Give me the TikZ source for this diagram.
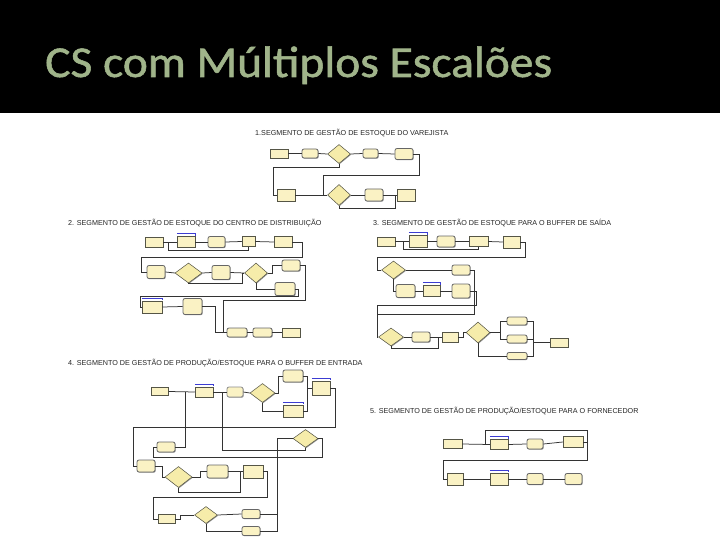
\documentclass[tikz,border=0pt]{standalone}
\usepackage{fontspec}
\usetikzlibrary{shapes.geometric,shadows}
\newfontfamily\titlefont[FakeStretch=1.08,FakeBold=1.2]{Carlito}
\newfontfamily\headfont{Liberation Sans}
\definecolor{titlegreen}{RGB}{160,180,138}
\definecolor{cream}{RGB}{250,242,196}
\definecolor{diafill}{RGB}{246,236,170}
\definecolor{edge}{RGB}{85,85,70}
\definecolor{qblue}{RGB}{60,60,210}
\tikzset{
  conn/.style={draw=black!80, line width=0.75pt},
  modbase/.style={draw=edge, line width=0.5pt, fill=cream, inner sep=0pt,
     drop shadow={shadow xshift=0.7pt, shadow yshift=-0.7pt, fill=black!45, opacity=1}},
  pbox/.style={modbase, rectangle},
  qbox/.style={modbase, rectangle},
  rbox/.style={modbase, rectangle, rounded corners=2pt, draw=black!60, line width=0.8pt},
  dia/.style={modbase, diamond, fill=diafill},
  head/.style={anchor=base west, inner sep=0pt, text=black!85, font=\headfont\fontsize{7.2}{8}\selectfont},
  qline/.style={draw=qblue, line width=0.6pt}
}
\newcommand\qbar[1]{\draw[qline] ([yshift=2.5pt]#1.north west) -- ([yshift=2.5pt]#1.north east) -- ([yshift=0.5pt]#1.north east);}
\begin{document}
\begin{tikzpicture}[x=1pt,y=-1pt]
\useasboundingbox (0,0) rectangle (720,540);
\fill[white] (0,0) rectangle (720,540);
\fill[black] (0,0) rectangle (720,113);
\node[anchor=base west, inner sep=0pt, text=titlegreen, font=\titlefont\fontsize{44}{44}\selectfont] (title) at (45,77) {CS com Múltiplos Escalões};

% headings
\node[head] (h1) at (255,135.5) {1.SEGMENTO DE GESTÃO DE ESTOQUE DO VAREJISTA};
\node[head] (h2) at (68,225.5) {2. SEGMENTO DE GESTÃO DE ESTOQUE DO CENTRO DE DISTRIBUIÇÃO};
\node[head] (h3) at (373,225.5) {3. SEGMENTO DE GESTÃO DE ESTOQUE PARA O BUFFER DE SAÍDA};
\node[head] (h4) at (68,365.5) {4. SEGMENTO DE GESTÃO DE PRODUÇÃO/ESTOQUE PARA O BUFFER DE ENTRADA};
\node[head] (h5) at (370,413) {5. SEGMENTO DE GESTÃO DE PRODUÇÃO/ESTOQUE PARA O FORNECEDOR};

% ---------- segment 1
\node[pbox, minimum width=18pt, minimum height=9pt] (a1) at (279,153.5) {};
\node[rbox, minimum width=16pt, minimum height=9pt] (a2) at (310,153.5) {};
\node[dia, minimum width=23pt, minimum height=19pt] (ad1) at (339,154) {};
\node[rbox, minimum width=15pt, minimum height=9pt] (a3) at (370.5,153.5) {};
\node[rbox, minimum width=18pt, minimum height=11pt] (a4) at (404,154) {};
\node[pbox, minimum width=18pt, minimum height=12pt] (a5) at (286,195) {};
\node[dia, minimum width=23pt, minimum height=21pt] (ad2) at (339,195) {};
\node[rbox, minimum width=18pt, minimum height=12pt] (a6) at (374,195) {};
\node[pbox, minimum width=18pt, minimum height=12pt] (a7) at (406,195) {};
\begin{scope}[conn]
\draw (a1.east) -- (a2.west);
\draw (a2.east) -- (ad1.west);
\draw (ad1.east) -- (a3.west);
\draw (a3.east) -- (a4.west);
\draw (ad1.south) |- (273,167) |- (a5.west);
\draw (a4.east) -| (419,175) -| (323,195);
\draw (a5.east) -- (ad2.west);
\draw (ad2.east) -- (a6.west);
\draw (a6.east) -- (a7.west);
\draw (ad2.south) |- (395,208) |- (a7.west);
\end{scope}

% ---------- segment 2
\node[pbox, minimum width=18pt, minimum height=10pt] (b1) at (154,242) {};
\node[qbox, minimum width=18pt, minimum height=11pt] (b2) at (186,242) {};
\node[rbox, minimum width=17pt, minimum height=11pt] (b3) at (216.5,242) {};
\node[pbox, minimum width=13pt, minimum height=10pt] (b4) at (248.5,241.5) {};
\node[pbox, minimum width=18pt, minimum height=11pt] (b5) at (283,242) {};
\node[rbox, minimum width=18pt, minimum height=13pt] (c1) at (156,272) {};
\node[dia, minimum width=27pt, minimum height=20pt] (cd1) at (188.5,273) {};
\node[rbox, minimum width=18pt, minimum height=14pt] (c2) at (221,272.5) {};
\node[dia, minimum width=23pt, minimum height=20pt] (cd2) at (256,273) {};
\node[rbox, minimum width=18pt, minimum height=11pt] (c3) at (291,265.5) {};
\node[rbox, minimum width=20pt, minimum height=13pt] (c4) at (285,289) {};
\node[qbox, minimum width=20pt, minimum height=12pt] (e1) at (152,307) {};
\node[rbox, minimum width=19pt, minimum height=16pt] (e2) at (192.5,306.5) {};
\node[rbox, minimum width=20pt, minimum height=9pt] (f1) at (237,332.5) {};
\node[rbox, minimum width=19pt, minimum height=9pt] (f2) at (262.5,332.5) {};
\node[pbox, minimum width=18pt, minimum height=9pt] (f3) at (291,332.5) {};
\qbar{b2}\qbar{e1}
\begin{scope}[conn]
\draw (b1.east) -- (b2.west);
\draw (b2.east) -- (b3.west);
\draw (b3.east) -- (b4.west);
\draw (b4.east) -- (b5.west);
\draw (b4.south) |- (168,250) |- (b2.west);
\draw (b5.east) -| (302,257) -| (141,272) -- (c1.west);
\draw (c1.east) -- (cd1.west);
\draw (cd1.east) -- (c2.west);
\draw (c2.east) -- (cd2.west);
\draw (cd1.south) |- (242,283) |- (cd2.west);
\draw (cd2.east) -- ++(5,0) |- (c3.west);
\draw (cd2.south) |- (c4.west);
\draw (c4.east) -| (298,296) -| (140,307) -- (e1.west);
\draw (e1.east) -- (e2.west);
\draw (c3.east) -| (305,300) -| (223,332.5) -- (f1.west);
\draw (e2.east) -| (215,332.5) -- (f1.west);
\draw (f1.east) -- (f2.west);
\draw (f2.east) -- (f3.west);
\end{scope}

% ---------- segment 3
\node[pbox, minimum width=18pt, minimum height=9pt] (g1) at (386,241.5) {};
\node[qbox, minimum width=18pt, minimum height=12pt] (g2) at (418,241.5) {};
\node[rbox, minimum width=18pt, minimum height=11pt] (g3) at (446,241.5) {};
\node[pbox, minimum width=19pt, minimum height=10pt] (g4) at (478.5,241.5) {};
\node[pbox, minimum width=17pt, minimum height=12pt] (g5) at (511.5,242) {};
\node[dia, minimum width=24pt, minimum height=18pt] (hd1) at (393.5,270) {};
\node[rbox, minimum width=18pt, minimum height=10pt] (h2n) at (461,270) {};
\node[rbox, minimum width=19pt, minimum height=13pt] (i1) at (405.5,291) {};
\node[qbox, minimum width=17pt, minimum height=11pt] (i2) at (431.5,291) {};
\node[rbox, minimum width=18pt, minimum height=14pt] (i3) at (461,291) {};
\node[dia, minimum width=25pt, minimum height=18pt] (jd1) at (391,337) {};
\node[rbox, minimum width=18pt, minimum height=10pt] (j2) at (421,337) {};
\node[pbox, minimum width=16pt, minimum height=10pt] (j3) at (450,337) {};
\node[dia, minimum width=24pt, minimum height=21pt] (jd4) at (478,332.5) {};
\node[rbox, minimum width=20pt, minimum height=8pt] (k1) at (517,321) {};
\node[rbox, minimum width=20pt, minimum height=8pt] (k2) at (517,339) {};
\node[rbox, minimum width=20pt, minimum height=7pt] (k3) at (517,356) {};
\node[pbox, minimum width=18pt, minimum height=9pt] (k4) at (559,342.5) {};
\qbar{g2}\qbar{i2}
\begin{scope}[conn]
\draw (g1.east) -- (g2.west);
\draw (g2.east) -- (g3.west);
\draw (g3.east) -- (g4.west);
\draw (g4.east) -- (g5.west);
\draw (g4.south) |- (403,249) |- (g2.west);
\draw (g5.east) -| (525,257) -| (377,270) -- (hd1.west);
\draw (hd1.east) -- (h2n.west);
\draw (hd1.south) |- (i1.west);
\draw (i1.east) -- (i2.west);
\draw (i2.east) -- (i3.west);
\draw (h2n.east) -| (474,314) -| (377,337) -- (jd1.west);
\draw (i3.east) -| (476,305) -| (377,314);
\draw (jd1.east) -- (j2.west);
\draw (j2.east) -- (j3.west);
\draw (jd1.south) |- (438,348) -- (438,337);
\draw (j3.east) -- ++(5,0) |- (jd4.west);
\draw (jd4.east) -| (500,321) -- (k1.west);
\draw (jd4.east) -| (500,339) -- (k2.west);
\draw (jd4.south) |- (k3.west);
\draw (k1.east) -| (533,342.5) -- (k4.west);
\draw (k2.east) -| (533,342.5);
\draw (k3.east) -| (533,342.5);
\end{scope}

% ---------- segment 4
\node[pbox, minimum width=17pt, minimum height=8pt] (m1) at (160,391.5) {};
\node[qbox, minimum width=18pt, minimum height=10pt] (m2) at (204,392) {};
\node[rbox, minimum width=16pt, minimum height=10pt, draw=black!45] (m3) at (235,392) {};
\node[dia, minimum width=25pt, minimum height=19pt] (md) at (262.5,393) {};
\node[rbox, minimum width=20pt, minimum height=12pt] (m5) at (293,376) {};
\node[qbox, minimum width=20pt, minimum height=12pt] (m6) at (293,411) {};
\node[qbox, minimum width=18pt, minimum height=14pt] (m7) at (321,388) {};
\node[rbox, minimum width=18pt, minimum height=10pt] (n0) at (166,447) {};
\node[dia, minimum width=25pt, minimum height=18pt] (od) at (305.5,438.5) {};
\node[rbox, minimum width=18pt, minimum height=12pt] (q1) at (146,466) {};
\node[dia, minimum width=27pt, minimum height=21pt] (qd) at (178.5,477) {};
\node[rbox, minimum width=21pt, minimum height=13pt] (q3) at (217.5,471.5) {};
\node[pbox, minimum width=20pt, minimum height=13pt] (q4) at (253,471.5) {};
\node[pbox, minimum width=17pt, minimum height=9pt] (r1) at (166.5,519) {};
\node[dia, minimum width=23pt, minimum height=17pt] (rd) at (206,515) {};
\node[rbox, minimum width=18pt, minimum height=9pt] (r3) at (251,514) {};
\node[rbox, minimum width=18pt, minimum height=9pt] (r4) at (251,531) {};
\qbar{m2}\qbar{m6}\qbar{m7}
\begin{scope}[conn]
\draw (m1.east) -- (m2.west);
\draw (m2.east) -- (m3.west);
\draw (m3.east) -- (md.west);
\draw (md.east) -- ++(3,0) |- (m5.west);
\draw (md.south) |- (m6.west);
\draw (m5.east) -| (307,388) -- (m7.west);
\draw (m6.east) -| (307,388);
\draw (m7.east) -| (335,427) -| (133,466) -- (q1.west);
\draw (n0.east) -| (185,392);
\draw (od.east) -| (322,457) -| (153,447) -- (n0.west);
\draw (od.south) |- (222,450) -- (222,392);
\draw (r3.east) -| (277,438.5) -- (od.west);
\draw (r4.east) -| (277,438.5);
\draw (q1.east) -| (162,477) -- (qd.west);
\draw (qd.east) -| (200,471.5) -- (q3.west);
\draw (q3.east) -- (q4.west);
\draw (qd.south) |- (240,492) -- (240,471.5);
\draw (q4.east) -| (267,497) -| (153,519) -- (r1.west);
\draw (r1.east) -- ++(5,0) |- (rd.west);
\draw (rd.east) -- (r3.west);
\draw (rd.south) |- (r4.west);
\end{scope}

% ---------- segment 5
\node[pbox, minimum width=19pt, minimum height=9pt] (s1) at (452.5,444) {};
\node[qbox, minimum width=18pt, minimum height=10pt] (s2) at (499,444.5) {};
\node[rbox, minimum width=16pt, minimum height=10pt] (s3) at (535,444) {};
\node[pbox, minimum width=20pt, minimum height=11pt] (s4) at (573,442) {};
\node[pbox, minimum width=16pt, minimum height=12pt] (t1) at (455,479) {};
\node[qbox, minimum width=18pt, minimum height=12pt] (t2) at (499,479) {};
\node[rbox, minimum width=16pt, minimum height=11pt] (t3) at (535,479) {};
\node[rbox, minimum width=17pt, minimum height=11pt] (t4) at (573.5,479) {};
\qbar{s2}\qbar{t2}
\begin{scope}[conn]
\draw (s1.east) -- (s2.west);
\draw (s2.east) -- (s3.west);
\draw (s3.east) -- (s4.west);
\draw (s4.east) -| (587,430) -| (485,444);
\draw (s4.east) -| (587,460) -| (443,479) -- (t1.west);
\draw (t1.east) -- (t2.west);
\draw (t2.east) -- (t3.west);
\draw (t3.east) -- (t4.west);
\end{scope}
\end{tikzpicture}
\end{document}
